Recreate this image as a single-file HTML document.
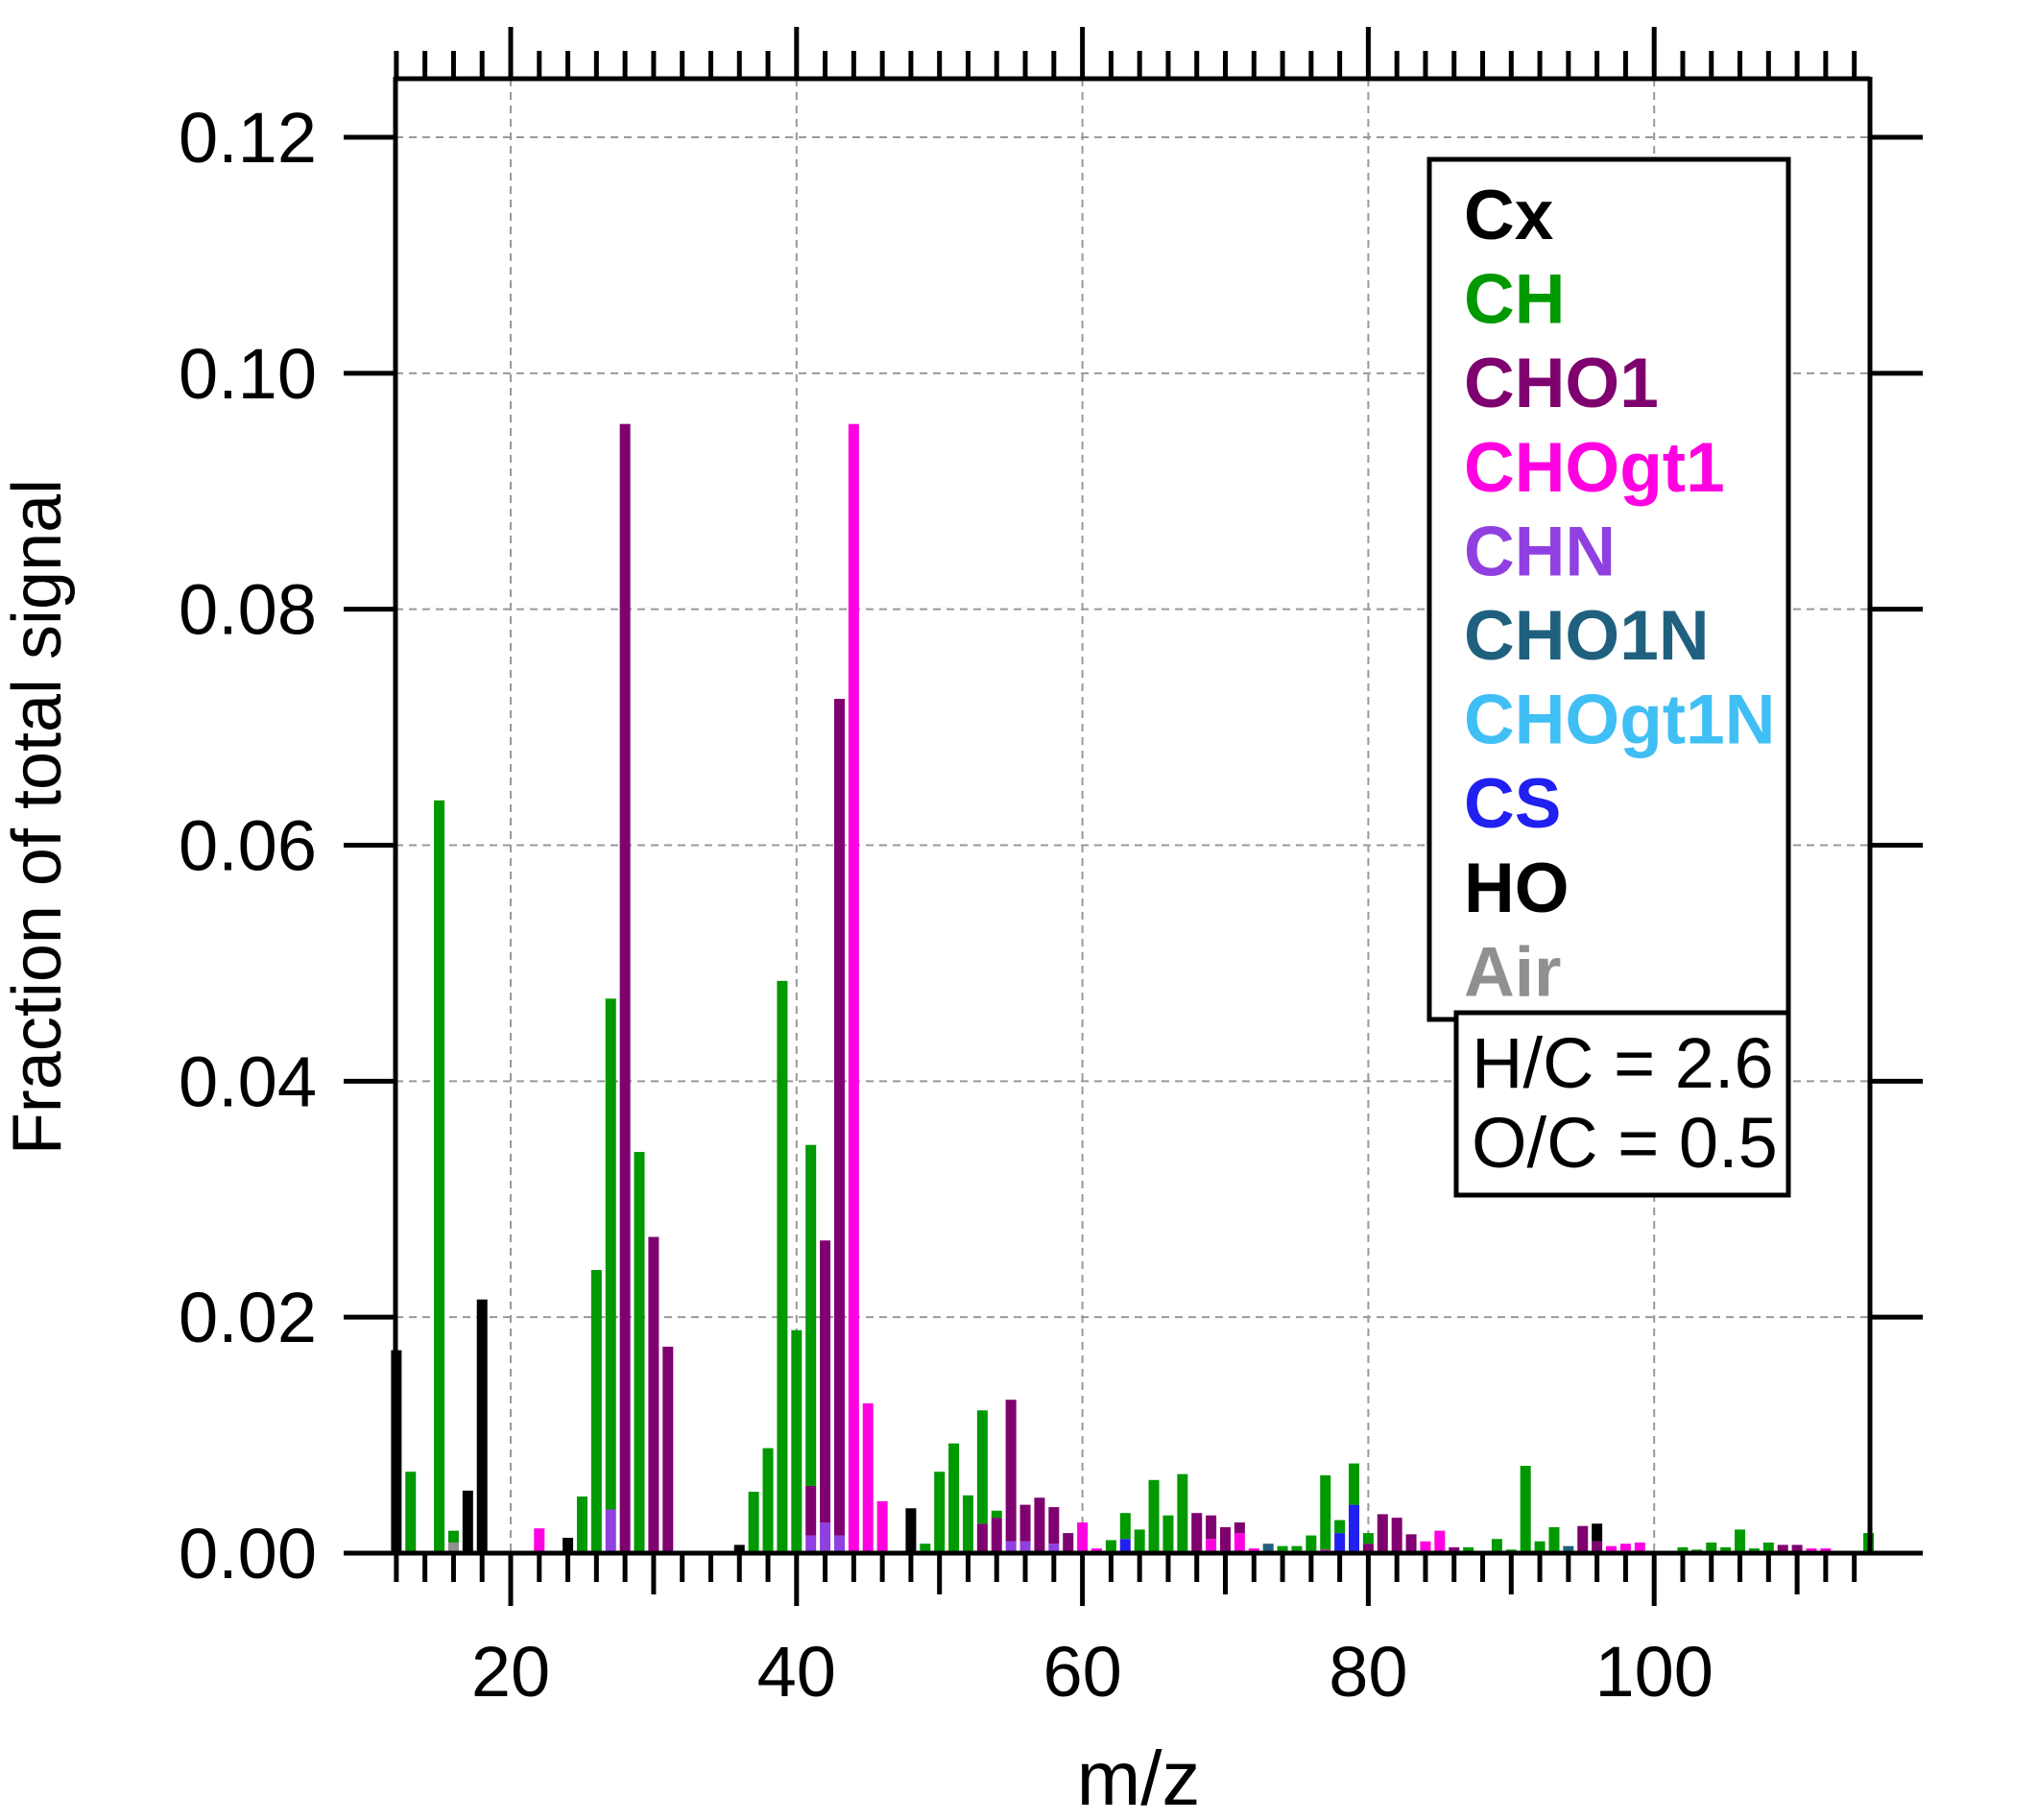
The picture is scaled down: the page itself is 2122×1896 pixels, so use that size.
<!DOCTYPE html>
<html><head><meta charset="utf-8"><style>html,body{margin:0;padding:0;background:#fff}svg{display:block}</style></head>
<body>
<svg id="s" xmlns="http://www.w3.org/2000/svg" width="2122" height="1896" viewBox="0 0 2122 1896" font-family="Liberation Sans, Arial, sans-serif">
<rect width="2122" height="1896" fill="#fff"/>
<g id="grid" stroke="#999" stroke-width="2" stroke-dasharray="8,6"></g>
<g id="bars"></g>
<g id="axes" stroke="#000" stroke-width="5"></g>
<g id="labels" font-size="74" fill="#000"></g>
<text x="1186" y="1880" font-size="80" text-anchor="middle">m/z</text>
<text transform="translate(63,851) rotate(-90)" font-size="72" text-anchor="middle">Fraction of total signal</text>
<rect x="1489" y="166" width="374" height="896" fill="#fff" stroke="#000" stroke-width="5"/>
<g font-weight="bold" font-size="73" transform="translate(1525,0)">
<text x="0" y="249" fill="#000">Cx</text>
<text x="0" y="336.6" fill="#009900">CH</text>
<text x="0" y="424.2" fill="#7f006f">CHO1</text>
<text x="0" y="511.8" fill="#ff00e0">CHOgt1</text>
<text x="0" y="599.4" fill="#9040e0">CHN</text>
<text x="0" y="687" fill="#20607f">CHO1N</text>
<text x="0" y="774.6" fill="#40bff5">CHOgt1N</text>
<text x="0" y="862.2" fill="#2020f0">CS</text>
<text x="0" y="949.8" fill="#000">HO</text>
<text x="0" y="1037.4" fill="#909090">Air</text>
</g>
<rect x="1517" y="1055" width="346" height="190" fill="#fff" stroke="#000" stroke-width="5"/>
<text x="1533" y="1133" font-size="74">H/C = 2.6</text>
<text x="1533" y="1216" font-size="74">O/C = 0.5</text>
</svg>
<script>
var NS="http://www.w3.org/2000/svg";
function X(m){return 532+(m-20)*14.89;}
function Y(v){return 1618-v*12291.7;}
function el(p,t,a){var e=document.createElementNS(NS,t);for(var k in a)e.setAttribute(k,a[k]);document.getElementById(p).appendChild(e);return e;}
var C={K:"#000",G:"#009900",P:"#7f006f",M:"#ff00e0",N:"#9040e0",D:"#20607f",L:"#40bff5",S:"#2020f0",A:"#909090"};
for(var v=0.02;v<0.121;v+=0.02){el("grid","line",{x1:412,x2:1948,y1:Y(v),y2:Y(v)});}
[20,40,60,80,100].forEach(function(m){el("grid","line",{x1:X(m),x2:X(m),y1:82,y2:1618});});
var D={12:[["K",.0172]],13:[["G",.0069]],15:[["G",.0638]],16:[["A",.0009],["G",.001]],17:[["K",.0053]],18:[["K",.0215]],
22:[["M",.0021]],24:[["K",.0013]],25:[["G",.0048]],26:[["G",.024]],27:[["N",.0037],["G",.0433]],28:[["P",.0957]],29:[["G",.034]],
30:[["P",.0268]],31:[["P",.0175]],36:[["K",.0007]],37:[["G",.0052]],38:[["G",.0089]],39:[["G",.0485]],40:[["G",.0189]],
41:[["N",.0015],["P",.0042],["G",.0289]],42:[["N",.0026],["P",.0239]],43:[["N",.0015],["P",.0709]],44:[["M",.0957]],45:[["M",.0127]],46:[["M",.0044]],
48:[["K",.0038]],49:[["G",.0008]],50:[["G",.0069]],51:[["G",.0093]],52:[["G",.0049]],53:[["P",.0025],["G",.0096]],54:[["P",.003],["G",.0006]],
55:[["N",.001],["P",.012]],56:[["N",.001],["P",.0031]],57:[["P",.0047]],58:[["N",.0008],["P",.0031]],59:[["P",.0017]],60:[["M",.0026]],61:[["M",.0004]],
62:[["G",.0011]],63:[["S",.0012],["G",.0022]],64:[["G",.002]],65:[["G",.0062]],66:[["G",.0032]],67:[["G",.0067]],68:[["P",.0034]],
69:[["M",.0012],["P",.002]],70:[["P",.0022]],71:[["M",.0017],["P",.0009]],72:[["M",.0004]],73:[["L",.0002],["D",.0006]],74:[["G",.0006]],75:[["G",.0006]],
76:[["G",.0015]],77:[["M",.0003],["G",.0063]],78:[["S",.0017],["G",.0011]],79:[["S",.0041],["G",.0035]],80:[["P",.0008],["G",.0009]],
81:[["P",.0033]],82:[["P",.003]],83:[["P",.0016]],84:[["M",.001]],85:[["M",.0019]],86:[["P",.0005]],87:[["G",.0005]],89:[["G",.0012]],90:[["G",.0003]],
91:[["G",.0074]],92:[["G",.001]],93:[["G",.0022]],94:[["D",.0006]],95:[["P",.0023]],96:[["P",.001],["K",.0015]],97:[["M",.0006]],98:[["M",.0008]],
99:[["M",.0009]],100:[["M",.0002]],102:[["G",.0005]],103:[["G",.0003]],104:[["G",.0009]],105:[["G",.0005]],106:[["G",.002]],107:[["G",.0004]],
108:[["G",.0009]],109:[["P",.0007]],110:[["P",.0007]],111:[["M",.0004]],112:[["M",.0004]],113:[["G",.0002]],114:[["P",.0002]],115:[["G",.0017]]};
for(var m in D){var acc=0;D[m].forEach(function(s){var y0=Y(acc),y1=Y(acc+s[1]);el("bars","rect",{x:X(+m)-5.5,y:y1,width:11,height:y0-y1,fill:C[s[0]]});acc+=s[1];});}
el("axes","line",{x1:412,x2:1948,y1:1618,y2:1618});
el("axes","line",{x1:412,x2:1948,y1:82,y2:82});
el("axes","line",{x1:412,x2:412,y1:80,y2:1620});
el("axes","line",{x1:1948,x2:1948,y1:80,y2:1620});
for(var m=12;m<=114;m+=2){var x=X(m);var maj=(m%20==0),med=(m%10==0);
 el("axes","line",{x1:x,x2:x,y1:1618,y2:1618+(maj?55:med?43:30)});
 el("axes","line",{x1:x,x2:x,y1:82,y2:82-(maj?54:29)});}
for(var i=0;i<=6;i++){var v=i*0.02,y=Y(v);
 el("axes","line",{x1:358,x2:412,y1:y,y2:y});el("axes","line",{x1:1948,x2:2003,y1:y,y2:y});
 var t=el("labels","text",{x:330,y:y+26,"text-anchor":"end"});t.textContent=v.toFixed(2);}
[20,40,60,80,100].forEach(function(m){var t=el("labels","text",{x:X(m),y:1767,"text-anchor":"middle"});t.textContent=m;});
</script>
</body></html>
